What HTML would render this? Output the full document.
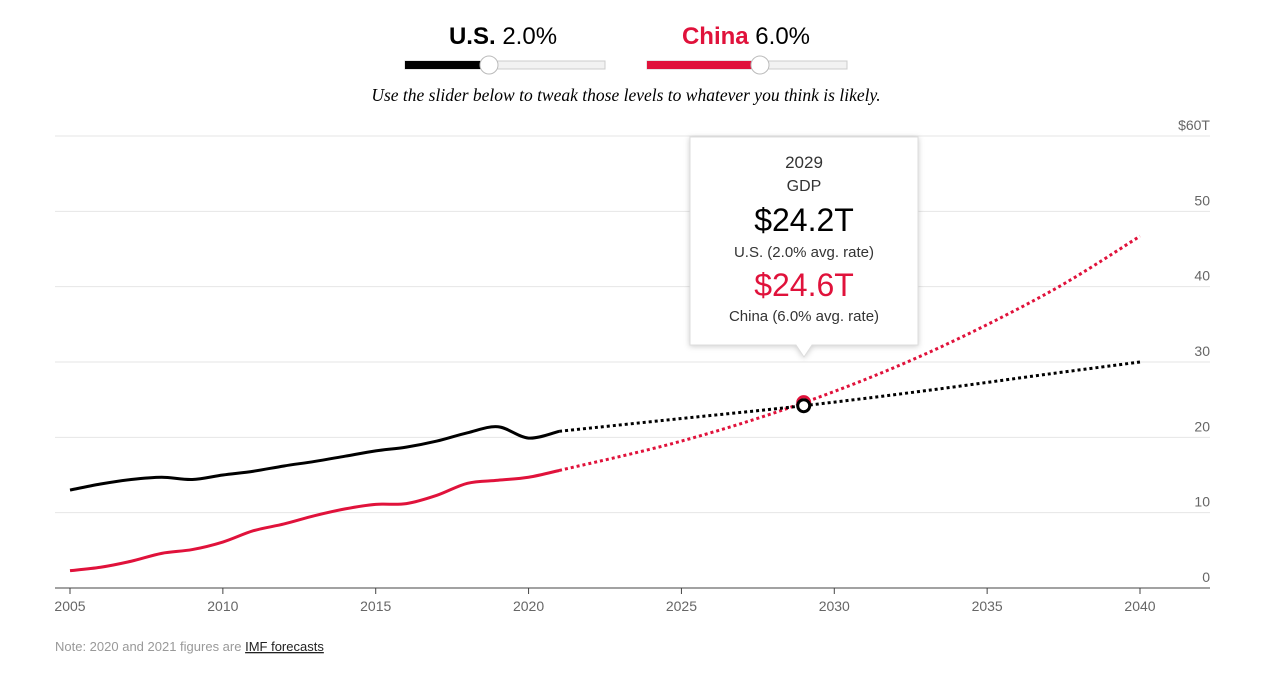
<!DOCTYPE html>
<html><head><meta charset="utf-8"><style>
body{margin:0;width:1280px;height:678px;background:#fff;font-family:"Liberation Sans",sans-serif;overflow:hidden}
svg{position:absolute;left:0;top:0}
</style></head><body>
<svg width="1280" height="678" id="chart">
 <g>
  <text x="503" y="44" font-size="24" text-anchor="middle"><tspan font-weight="bold">U.S.</tspan> 2.0%</text>
  <rect x="405" y="61" width="200" height="8" fill="#f2f2f2" stroke="#ccc"/>
  <rect x="405" y="61" width="84" height="8" fill="#000"/>
  <circle cx="489" cy="65" r="9" fill="#fff" stroke="#bbb"/>
  <text x="746" y="44" font-size="24" text-anchor="middle"><tspan font-weight="bold" fill="#e0123b">China</tspan> 6.0%</text>
  <rect x="647" y="61" width="200" height="8" fill="#f2f2f2" stroke="#ccc"/>
  <rect x="647" y="61" width="113" height="8" fill="#e0123b"/>
  <circle cx="760" cy="65" r="9" fill="#fff" stroke="#bbb"/>
  <text x="626" y="101" font-size="17.5" font-style="italic" font-family="Liberation Serif,serif" text-anchor="middle">Use the slider below to tweak those levels to whatever you think is likely.</text>
 </g>
 <g id="grid"></g><g id="axes"></g><g id="lines"></g>
 <g>
  <path d="M690 137H918V345H812L804 357L796 345H690Z" fill="#fff" stroke="#ddd" style="filter:drop-shadow(0 1px 3px rgba(0,0,0,.2))"/>
  <text x="804" y="168" font-size="17" text-anchor="middle" fill="#333">2029</text>
  <text x="804" y="191" font-size="16" text-anchor="middle" fill="#333">GDP</text>
  <text x="804" y="231" font-size="32" text-anchor="middle">$24.2T</text>
  <text x="804" y="257" font-size="15" text-anchor="middle" fill="#333">U.S. (2.0% avg. rate)</text>
  <text x="804" y="296" font-size="32" text-anchor="middle" fill="#e0123b">$24.6T</text>
  <text x="804" y="321" font-size="15" text-anchor="middle" fill="#333">China (6.0% avg. rate)</text>
 </g>
 <text x="55" y="651" font-size="13" fill="#999">Note: 2020 and 2021 figures are <tspan fill="#222" text-decoration="underline">IMF forecasts</tspan></text>
</svg>
<script>
const years=[2005,2006,2007,2008,2009,2010,2011,2012,2013,2014,2015,2016,2017,2018,2019,2020,2021];
const usHist=[13.0,13.8,14.4,14.7,14.4,15.0,15.5,16.2,16.8,17.5,18.2,18.7,19.5,20.6,21.4,19.9,20.8];
const chinaHist=[2.3,2.75,3.55,4.6,5.1,6.1,7.6,8.5,9.6,10.5,11.1,11.2,12.3,13.9,14.3,14.7,15.6];
const fcYears=[2021,2025,2029,2033,2037,2040];
const usFc=[20.8,22.5,24.2,26.2,28.4,30.0];
const chinaFc=[15.6,19.5,24.6,31.1,39.2,46.7];
const yTicks=[0,10,20,30,40,50,60];
const yTickLabels=['0','10','20','30','40','50','$60T'];
const xTicks=[2005,2010,2015,2020,2025,2030,2035,2040];
const hoverYear=2029;
const X=y=>70+(y-2005)*(1070/35);
const Y=v=>588-v*(452/60);
const NS='http://www.w3.org/2000/svg';
function mk(t,a,p){const e=document.createElementNS(NS,t);for(const k in a)e.setAttribute(k,a[k]);p.appendChild(e);return e;}
const grid=document.getElementById('grid'),axes=document.getElementById('axes'),lines=document.getElementById('lines');
yTicks.forEach((v,i)=>{
 const l=mk('line',{x1:55,x2:1210,y1:Y(v),y2:Y(v),stroke:v===0?'#444':'#e6e6e6'},grid);
 
 
 const t=mk('text',{x:1210,y:Y(v)-6,'font-size':14,fill:'#666','text-anchor':'end'},axes);t.textContent=yTickLabels[i];
 
 
});
xTicks.forEach(yr=>{
 mk('line',{x1:X(yr),x2:X(yr),y1:588,y2:594,stroke:'#444'},axes);
 const t=mk('text',{x:X(yr),y:611,'font-size':14,fill:'#666','text-anchor':'middle'},axes);t.textContent=yr;
 
 
});
function path(xs,vs){const p=xs.map((x,i)=>[X(x),Y(vs[i])]);let d='M'+p[0];
 for(let i=0;i<p.length-1;i++){const a=p[i-1]||p[i],b=p[i],c=p[i+1],e=p[i+2]||c;
  d+=`C${b[0]+(c[0]-a[0])/6},${b[1]+(c[1]-a[1])/6} ${c[0]-(e[0]-b[0])/6},${c[1]-(e[1]-b[1])/6} ${c[0]},${c[1]}`;}return d;}
function line(xs,vs,col,dot,name){const e=mk('path',{d:path(xs,vs),fill:'none',stroke:col,'stroke-width':3,'stroke-dasharray':dot?'3 3':''},lines);
 
 }
line(years,chinaHist,'#e0123b',false,'china-line');
line(years,usHist,'#000',false,'us-line');
line(fcYears,chinaFc,'#e0123b',true,'china-forecast-line');
line(fcYears,usFc,'#000',true,'us-forecast-line');
const hi=fcYears.indexOf(hoverYear);
const c1=mk('circle',{cx:X(hoverYear),cy:Y(chinaFc[hi]),r:6,fill:'#fff',stroke:'#e0123b','stroke-width':3},lines);


const c2=mk('circle',{cx:X(hoverYear),cy:Y(usFc[hi]),r:6,fill:'#fff',stroke:'#000','stroke-width':3},lines);


</script>
</body></html>
